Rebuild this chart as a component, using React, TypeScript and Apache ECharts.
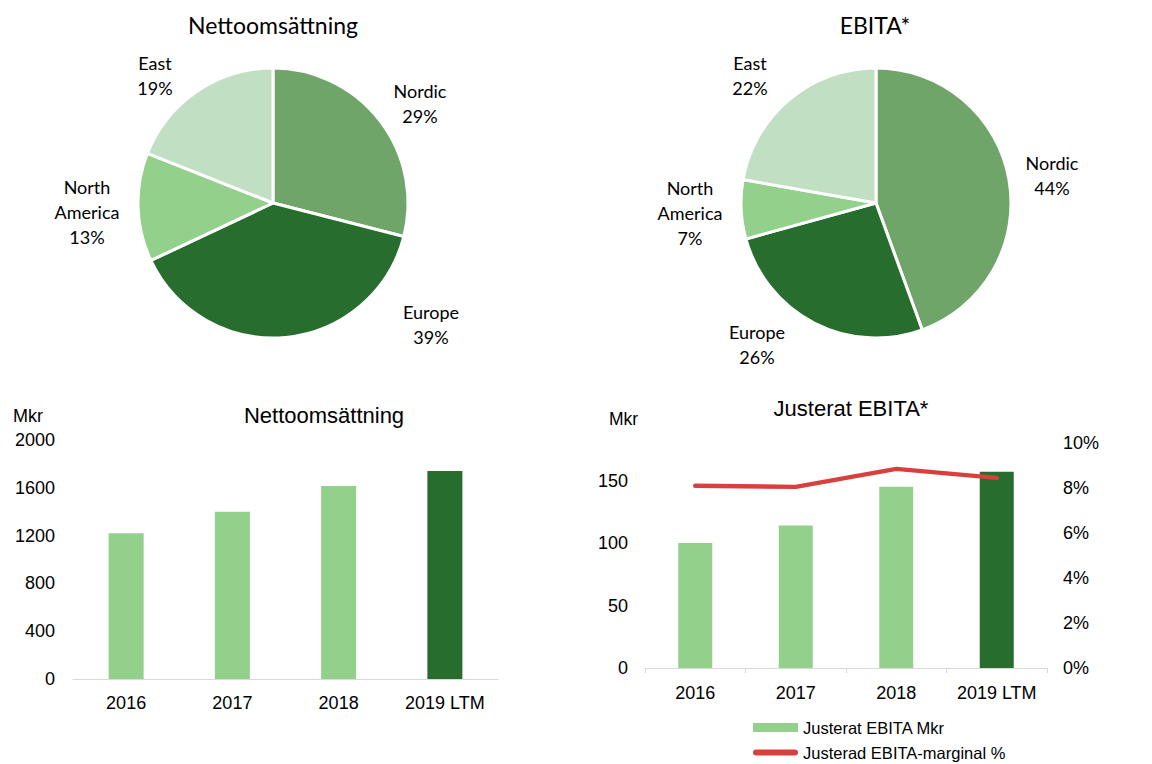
import React, { useEffect, useRef } from "react";
import * as echarts from "echarts";

// ---- Data ----
const regions = ["Nordic", "Europe", "North America", "East"];
const salesShare = [29, 39, 13, 19];
const ebitaShare = [44, 26, 7, 22];
const years = ["2016", "2017", "2018", "2019 LTM"];
const netSales = [1220, 1400, 1615, 1740];
const adjEbita = [100, 114, 145, 157];
const ebitaMargin = [8.1, 8.05, 8.85, 8.45];
const salesTicks = { min: 0, max: 2000, interval: 400 };
const ebitaTicks = { min: 0, max: 180, interval: 50 };
const marginTicks = { min: 0, max: 10, interval: 2 };

// ---- Styles / layout ----
const regionColors = ["#70A56A", "#276E2E", "#93D08B", "#C0DFC3"];
const LIGHT = "#93D08B";
const DARK = "#276E2E";
const RED = "#D7403C";
const PIE_FONT = "Lato, 'Noto Sans', sans-serif";
const BAR_FONT = "'Liberation Sans', Arial, sans-serif";
const labelAnchors = [
  [[420, 103], [431, 324], [87, 212], [155, 75]],
  [[1052, 175], [757, 344], [690, 213], [750, 75]],
];

function pieSeries(values: number[], center: [number, number], idx: number): any {
  return {
    type: "pie",
    center,
    radius: 135,
    startAngle: 90,
    clockwise: true,
    avoidLabelOverlap: false,
    itemStyle: { borderColor: "#ffffff", borderWidth: 3 },
    label: {
      show: true,
      position: "outside",
      fontFamily: PIE_FONT,
      fontSize: 18,
      lineHeight: 25,
      color: "#000",
      formatter: (p: any) => `${p.name.replace(" ", "\n")}\n${p.value}%`,
    },
    labelLine: { show: false },
    labelLayout: (p: any) => {
      const a = labelAnchors[idx][p.dataIndex];
      return { x: a[0], y: a[1], align: "center", verticalAlign: "middle" };
    },
    emphasis: { disabled: true },
    data: regions.map((name, i) => ({
      name,
      value: values[i],
      itemStyle: { color: regionColors[i] },
    })),
  };
}

function barData(values: number[]) {
  return values.map((v, i) => ({
    value: v,
    itemStyle: { color: i === values.length - 1 ? DARK : LIGHT },
  }));
}

const axisText = { fontFamily: BAR_FONT, fontSize: 18, color: "#000" };
const legendText = { fontFamily: BAR_FONT, fontSize: 16.5, color: "#000" };

export default function App() {
  const ref = useRef<HTMLDivElement>(null);
  useEffect(() => {
    if (!ref.current) return;
    const chart = echarts.init(ref.current, undefined, { renderer: "svg" });
    chart.setOption({
      animation: false,
      backgroundColor: "#ffffff",
      graphic: [
        { type: "text", x: 273, y: 25, style: { text: "Nettoomsättning", fontFamily: PIE_FONT, fontSize: 23, fill: "#000", align: "center", verticalAlign: "middle" } },
        { type: "text", x: 875, y: 25, style: { text: "EBITA*", fontFamily: PIE_FONT, fontSize: 23, fill: "#000", align: "center", verticalAlign: "middle" } },
        { type: "text", x: 324, y: 415, style: { text: "Nettoomsättning", fontFamily: BAR_FONT, fontSize: 22, fill: "#000", align: "center", verticalAlign: "middle" } },
        { type: "text", x: 851, y: 408.5, style: { text: "Justerat EBITA*", fontFamily: BAR_FONT, fontSize: 22, fill: "#000", align: "center", verticalAlign: "middle" } },
        { type: "text", x: 13, y: 416, style: { text: "Mkr", fontFamily: BAR_FONT, fontSize: 18, fill: "#000", align: "left", verticalAlign: "middle" } },
        { type: "text", x: 609, y: 418.5, style: { text: "Mkr", fontFamily: BAR_FONT, fontSize: 17.5, fill: "#000", align: "left", verticalAlign: "middle" } },
      ],
      grid: [
        { left: 73, right: 654, top: 440, bottom: 85 },
        { left: 645, right: 105, top: 443, bottom: 96 },
      ],
      xAxis: [
        {
          type: "category",
          gridIndex: 0,
          data: years,
          axisLine: { lineStyle: { color: "#D9D9D9", width: 1 } },
          axisTick: { show: false },
          axisLabel: { ...axisText, margin: 15, interval: 0 },
        },
        {
          type: "category",
          gridIndex: 1,
          data: years,
          axisLine: { lineStyle: { color: "#D9D9D9", width: 1 } },
          axisTick: { show: true, length: 5, lineStyle: { color: "#D9D9D9" } },
          axisLabel: { ...axisText, margin: 16, interval: 0 },
        },
      ],
      yAxis: [
        {
          type: "value",
          gridIndex: 0,
          ...salesTicks,
          axisLine: { show: false },
          axisTick: { show: false },
          splitLine: { show: false },
          axisLabel: { ...axisText, margin: 18, formatter: (v: number) => String(v) },
        },
        {
          type: "value",
          gridIndex: 1,
          ...ebitaTicks,
          axisLine: { show: false },
          axisTick: { show: false },
          splitLine: { show: false },
          axisLabel: {
            ...axisText,
            margin: 17,
            showMaxLabel: false,
            formatter: (v: number) => (v % 50 === 0 ? String(v) : ""),
          },
        },
        {
          type: "value",
          gridIndex: 1,
          position: "right",
          ...marginTicks,
          axisLine: { show: false },
          axisTick: { show: false },
          splitLine: { show: false },
          axisLabel: { ...axisText, margin: 16, formatter: "{value}%" },
        },
      ],
      legend: [
        {
          orient: "vertical",
          left: 748,
          top: 714,
          itemWidth: 45,
          itemHeight: 9,
          itemGap: 5,
          textStyle: legendText,
          data: [{ name: "Justerat EBITA Mkr", icon: "rect" }],
        },
        {
          orient: "vertical",
          left: 748,
          top: 739,
          itemWidth: 45,
          itemHeight: 6,
          itemGap: 5,
          textStyle: legendText,
          data: [
            {
              name: "Justerad EBITA-marginal %",
              icon: "path://M3,0 L42,0 A3,3 0 0 1 42,6 L3,6 A3,3 0 0 1 3,0 Z",
              itemStyle: { color: RED },
            },
          ],
        },
      ],
      series: [
        pieSeries(salesShare, [273, 203], 0),
        pieSeries(ebitaShare, [876, 203], 1),
        {
          type: "bar",
          name: "Nettoomsättning",
          xAxisIndex: 0,
          yAxisIndex: 0,
          barWidth: 35,
          itemStyle: { color: LIGHT },
          data: barData(netSales),
        },
        {
          type: "bar",
          name: "Justerat EBITA Mkr",
          xAxisIndex: 1,
          yAxisIndex: 1,
          barWidth: 34,
          itemStyle: { color: LIGHT },
          data: barData(adjEbita),
        },
        {
          type: "line",
          name: "Justerad EBITA-marginal %",
          xAxisIndex: 1,
          yAxisIndex: 2,
          symbol: "none",
          z: 5,
          lineStyle: { color: RED, width: 4.5, cap: "round", join: "round" },
          itemStyle: { color: RED },
          data: ebitaMargin,
        },
      ],
    });
    return () => chart.dispose();
  }, []);
  return (
    <div
      ref={ref}
      style={{ position: "fixed", left: 0, top: 0, width: 1152, height: 764, background: "#fff" }}
    />
  );
}
